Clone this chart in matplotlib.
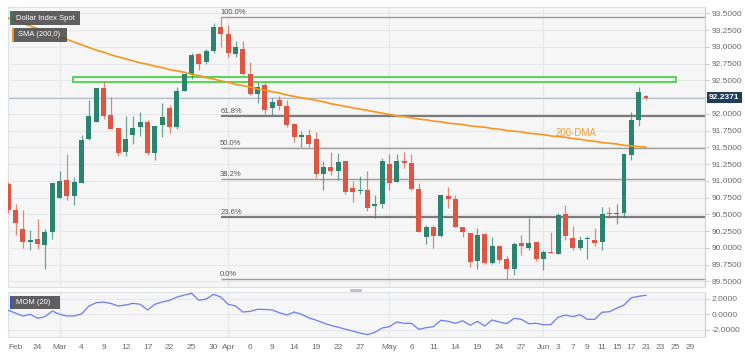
import matplotlib
matplotlib.use("Agg")
import matplotlib.pyplot as plt
from matplotlib.patches import Rectangle
from matplotlib.ticker import FuncFormatter
import numpy as np

plt.rcParams["font.family"] = ["Liberation Sans", "DejaVu Sans"]

# daily candles, 18 Feb .. 21 Jun
opens = [
    90.95, 90.57, 90.28, 90.09, 90.13, 90.04, 90.23, 90.75, 91.01, 90.77,
    90.97, 91.62, 91.88, 92.39, 91.98, 91.79, 91.43, 91.68, 91.81, 91.88,
    91.42, 91.83, 92.09, 91.80, 92.34, 92.60, 92.89, 92.78, 92.93, 93.29,
    93.19, 92.89, 92.96, 92.60, 92.30, 92.43, 92.08, 92.21, 92.12, 91.85,
    91.65, 91.69, 91.62, 91.10, 91.20, 91.14, 91.29, 90.89, 90.85, 90.87,
    90.62, 90.65, 91.25, 90.98, 91.30, 91.27, 90.88, 90.16, 90.31, 90.18,
    90.78, 90.73, 90.31, 90.22, 89.81, 90.21, 89.77, 90.03, 89.84, 89.68,
    90.07, 90.00, 90.08, 89.84, 89.94, 89.91, 90.50, 90.15, 89.99, 90.13,
    90.12, 90.09, 90.51, 90.50, 90.52, 91.39, 91.91, 92.26,
]
highs = [
    90.98, 90.65, 90.56, 90.26, 90.43, 90.28, 90.96, 91.14, 91.40, 91.06,
    91.68, 92.21, 92.39, 92.49, 92.25, 91.79, 91.96, 91.97, 92.03, 91.91,
    91.82, 92.16, 92.13, 92.40, 92.60, 92.91, 92.90, 92.96, 93.36, 93.44,
    93.33, 93.08, 93.08, 92.78, 92.48, 92.48, 92.23, 92.26, 92.21, 91.85,
    91.74, 91.77, 91.73, 91.29, 91.43, 91.42, 91.29, 90.99, 91.07, 91.14,
    90.79, 91.34, 91.40, 91.40, 91.43, 91.40, 90.96, 90.34, 90.34, 90.79,
    90.91, 90.79, 90.31, 90.22, 90.29, 90.22, 90.16, 90.03, 89.88, 90.08,
    90.19, 90.45, 90.08, 89.97, 90.24, 90.52, 90.64, 90.32, 90.17, 90.17,
    90.29, 90.61, 90.61, 90.66, 91.40, 92.02, 92.40, 92.28,
]
lows = [
    90.52, 90.19, 89.99, 89.96, 89.98, 89.69, 90.13, 90.74, 90.72, 90.64,
    90.97, 91.61, 91.88, 91.92, 91.77, 91.37, 91.37, 91.55, 91.67, 91.38,
    91.31, 91.66, 91.72, 91.77, 92.34, 92.52, 92.65, 92.75, 92.90, 93.00,
    92.85, 92.85, 92.58, 92.28, 92.16, 92.00, 91.98, 92.06, 91.81, 91.58,
    91.51, 91.51, 91.04, 90.86, 91.09, 91.01, 90.81, 90.69, 90.81, 90.55,
    90.44, 90.60, 90.86, 90.98, 91.19, 90.86, 90.23, 90.06, 89.99, 90.16,
    90.59, 90.31, 90.16, 89.72, 89.69, 89.76, 89.76, 89.77, 89.53, 89.60,
    89.89, 89.97, 89.81, 89.67, 89.92, 89.91, 90.11, 89.97, 89.97, 89.84,
    90.02, 89.97, 90.44, 90.36, 90.46, 91.31, 91.82, 92.21,
]
closes = [
    90.56, 90.37, 90.09, 90.12, 90.05, 90.23, 90.96, 91.00, 90.77, 90.98,
    91.61, 91.96, 92.39, 91.96, 91.78, 91.41, 91.62, 91.79, 91.88, 91.41,
    91.82, 91.95, 91.80, 92.34, 92.59, 92.88, 92.74, 92.93, 93.29, 93.19,
    92.90, 93.00, 92.59, 92.30, 92.40, 92.06, 92.18, 92.11, 91.84, 91.65,
    91.69, 91.55, 91.10, 91.20, 91.14, 91.28, 90.84, 90.84, 90.87, 90.60,
    90.65, 91.30, 90.97, 91.29, 91.27, 90.88, 90.23, 90.31, 90.18, 90.79,
    90.73, 90.31, 90.24, 89.79, 90.19, 89.77, 90.03, 89.82, 89.68, 90.06,
    90.02, 90.07, 89.84, 89.93, 89.92, 90.49, 90.17, 89.99, 90.12, 90.14,
    90.07, 90.50, 90.50, 90.52, 91.40, 91.91, 92.33, 92.24,
]
sma200 = [
    93.43, 93.39, 93.35, 93.31, 93.27, 93.23, 93.19, 93.15, 93.11, 93.07,
    93.03, 92.99, 92.95, 92.92, 92.88, 92.85, 92.82, 92.79, 92.76, 92.74,
    92.71, 92.69, 92.66, 92.64, 92.62, 92.59, 92.57, 92.54, 92.52, 92.49,
    92.47, 92.44, 92.42, 92.40, 92.37, 92.35, 92.33, 92.31, 92.28, 92.26,
    92.24, 92.22, 92.20, 92.18, 92.15, 92.13, 92.11, 92.09, 92.07, 92.05,
    92.03, 92.01, 91.99, 91.97, 91.96, 91.94, 91.92, 91.91, 91.89, 91.88,
    91.86, 91.85, 91.84, 91.82, 91.81, 91.80, 91.78, 91.77, 91.75, 91.74,
    91.73, 91.71, 91.70, 91.69, 91.67, 91.66, 91.65, 91.63, 91.62, 91.60,
    91.59, 91.57, 91.56, 91.55, 91.53, 91.52, 91.51, 91.50,
]
mom20 = [
    0.51, 0.15, -0.22, 0.00, -0.51, -0.30, 0.42, 0.00, -0.22, -0.20,
    0.05, 1.06, 1.48, 1.57, 1.38, 1.06, 1.19, 1.40, 1.28, 0.55,
    1.28, 1.58, 1.78, 2.20, 2.45, 2.68, 1.79, 1.95, 2.55, 2.20,
    1.28, 1.06, 0.29, 0.38, 0.64, 0.62, 0.55, 0.20, -0.09, 0.29,
    0.00, -0.45, -0.75, -1.10, -1.42, -1.65, -1.90, -2.15, -2.40, -2.60,
    -2.30, -1.75, -1.58, -0.98, -1.15, -1.15, -1.92, -1.71, -1.58, -0.77,
    -0.89, -1.15, -0.82, -1.40, -0.89, -1.49, -0.73, -0.98, -1.20, -0.51,
    -0.64, -1.20, -1.15, -1.33, -1.33, -0.38, -0.09, -0.30, -0.05, -0.64,
    -0.64, 0.26, 0.33, 0.77, 1.19, 2.12, 2.30, 2.43,
]

date_ticks = [1, 4, 7, 10, 13, 16, 19, 22, 25, 28, 30, 33, 36, 39, 42, 45, 48,
              52, 55, 58, 61, 64, 67, 70, 73, 75, 77, 79, 81, 83, 85, 87, 89,
              91, 93]
date_labels = ["Feb", "24", "Mar", "4", "9", "12", "17", "22", "25", "30", "Apr",
               "6", "9", "14", "19", "22", "27", "May", "6", "11", "14", "19",
               "24", "27", "Jun", "3", "7", "9", "11", "15", "17", "21", "23",
               "25", "29"]
month_starts = [7, 30, 52, 73]

fib_levels = [93.44, 91.96, 91.49, 91.03, 90.46, 89.53]
fib_labels = ["100.0%", "61.8%", "50.0%", "38.2%", "23.6%", "0.0%"]
fib_start = 29
resist_zone = (92.48, 92.555)
resist_span = (8.8, 91.1)
last_price = 92.2371
dma_label_pos = (77.4, 91.71)

UP = "#2b8470"
DOWN = "#e05540"
GRID = "#e6e8eb"
TXT = "#6a6a6a"

W, H = 745, 354
fig = plt.figure(figsize=(W / 100, H / 100), dpi=100)
fig.patch.set_facecolor("white")


def px_box(x0, y0, x1, y1):
    return [x0 / W, 1 - y1 / H, (x1 - x0) / W, (y1 - y0) / H]


def price_fmt(v, p):
    # the live price tag sits where the 92.25 label would be
    if abs(v - 92.25) < 1e-6:
        return ""
    return f"{v:.4f}"


ax = fig.add_axes(px_box(8, 7, 705, 287))
mx = fig.add_axes(px_box(8, 292, 705, 337), sharex=ax)

x = np.arange(len(opens))
o = np.array(opens)
c = np.array(closes)
up = c >= o
cols = np.where(up, UP, DOWN)

for a in (ax, mx):
    a.set_facecolor("#f6f6f6")
    for s in a.spines.values():
        s.set_color("#dde2e8")
        s.set_linewidth(0.8)
    a.spines["right"].set_color("#c9d1dc")
    for m in month_starts:
        a.axvline(m, color=GRID, lw=0.9, zorder=0)

ax.set_xlim(-0.04, 95.05)
ax.set_ylim(89.415, 93.594)
yt = np.arange(89.5, 93.51, 0.25)
ax.set_yticks(yt)
for v in yt:
    ax.axhline(v, color=GRID, lw=0.8, zorder=0)
ax.yaxis.tick_right()
ax.yaxis.set_major_formatter(FuncFormatter(price_fmt))
ax.tick_params(axis="y", labelsize=6, colors="#c0c0c0", labelcolor=TXT,
               length=3, width=0.6, pad=1.5)
ax.tick_params(axis="x", length=0, labelbottom=False)

# fibonacci retracement
for lvl, lab in zip(fib_levels, fib_labels):
    thick = lab in ("61.8%", "23.6%")
    ax.plot([fib_start, 95.05], [lvl, lvl], color="#7c7c7c" if thick else "#9c9c9c",
            lw=1.6 if thick else 1.0, zorder=2, solid_capstyle="butt")
    ax.text(fib_start - 0.1, lvl + 0.015, lab, fontsize=5.5, color="#555555",
            ha="left", va="bottom", zorder=6)

# resistance zone
ax.add_patch(Rectangle((resist_span[0], resist_zone[0]),
                       resist_span[1] - resist_span[0],
                       resist_zone[1] - resist_zone[0],
                       facecolor="#f0fbef", edgecolor="#3ccf3c", lw=1.2, zorder=2))

# last price line
ax.axhline(last_price, color="#b4c0d0", lw=0.9, zorder=1)

# candles
ax.vlines(x, lows, highs, colors=cols, lw=0.9, alpha=0.7, zorder=3)
body = np.maximum(np.abs(c - o), 0.012)
ax.bar(x, body, bottom=np.minimum(o, c), width=0.68, color=cols, zorder=4,
       linewidth=0)

# 200 DMA
ax.plot(x, sma200, color="#f7961e", lw=1.2, zorder=5)
ax.text(dma_label_pos[0], dma_label_pos[1], "200-DMA", color="#f5a030",
        fontsize=7, ha="center", va="center", zorder=6)

# price tag
ax.text(1.006, last_price, f"{last_price:.4f}", transform=ax.get_yaxis_transform(),
        fontsize=6, color="white", fontweight="bold", ha="left", va="center",
        bbox=dict(boxstyle="square,pad=0.25", facecolor="#1f3b5e", edgecolor="none"),
        zorder=10, clip_on=False)

# momentum panel
mx.set_ylim(-2.9, 2.85)
mx.set_yticks([-2, 0, 2])
for v in (-2, 0, 2):
    mx.axhline(v, color=GRID, lw=0.8, zorder=0)
mx.yaxis.tick_right()
mx.yaxis.set_major_formatter(FuncFormatter(lambda v, p: f"{v:.4f}"))
mx.tick_params(axis="y", labelsize=6, colors="#c0c0c0", labelcolor=TXT,
               length=3, width=0.6, pad=1.5)
mx.plot(x, mom20, color="#6b7cf5", lw=0.9, zorder=3)
mx.set_xticks(date_ticks)
mx.set_xticklabels(date_labels)
mx.tick_params(axis="x", labelsize=6, labelcolor=TXT, length=0, pad=5)


# legend tags
def tag(x0, y0, x1, y1, bar, text):
    fig.add_artist(Rectangle((x0 / W, 1 - y1 / H), (x1 - x0) / W, (y1 - y0) / H,
                             transform=fig.transFigure, facecolor="#4a4a4a",
                             alpha=0.88, edgecolor="none", zorder=20))
    fig.add_artist(Rectangle((x0 / W, 1 - y1 / H), 2 / W, (y1 - y0) / H,
                             transform=fig.transFigure, facecolor=bar,
                             edgecolor="none", zorder=21))
    fig.text((x0 + 6) / W, 1 - (y0 + y1) / 2 / H, text, fontsize=5.5,
             color="white", ha="left", va="center", zorder=22)


tag(10, 11.5, 80, 25, "#2e7d6d", "Dollar Index Spot")
tag(11.5, 28.5, 66.5, 41.5, "#f7961e", "SMA (200,0)")
tag(10, 295.5, 60, 308.5, "#3355dd", "MOM (20)")

# pane splitter handle
fig.add_artist(Rectangle((350 / W, 1 - 292 / H), 12 / W, 3 / H,
                         transform=fig.transFigure, facecolor="#c4c4c4",
                         edgecolor="none"))

fig.savefig("out.png", dpi=100)
